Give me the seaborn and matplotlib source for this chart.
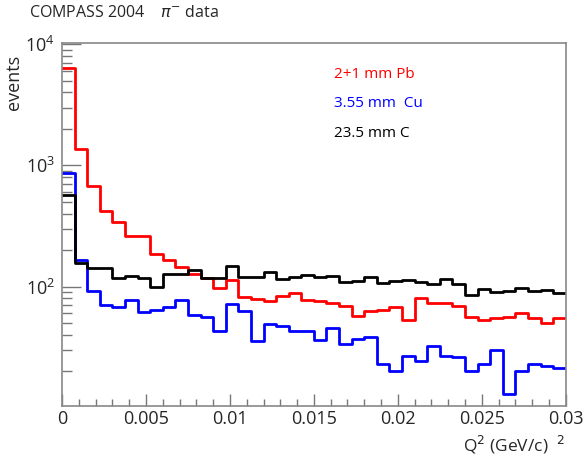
import numpy as np
import pandas as pd
import matplotlib
matplotlib.use("Agg")
import matplotlib.pyplot as plt
import seaborn as sns
from matplotlib.ticker import MultipleLocator, LogLocator

# Bins: 40 bins from 0 to 0.03 (GeV/c)^2
n_bins = 40
q2_min, q2_max = 0.0, 0.03
edges = np.linspace(q2_min, q2_max, n_bins + 1)
centers = 0.5 * (edges[:-1] + edges[1:])

# Contents
pb = [6370, 1355, 670, 419, 338, 259, 259, 184, 166, 144,
      127, 117, 97.5, 114, 82.6, 79, 76.6, 84.3, 89, 77.6,
      76.6, 72.8, 69.6, 57.5, 63.4, 63.8, 68.3, 53.4, 80.7, 72.8,
      72.8, 69.6, 55.7, 53.1, 55.1, 56.5, 60.7, 55.1, 50.1, 55.1]
cu = [871, 166, 92.7, 71, 68.3, 77.6, 61.4, 64.6, 67.4, 78.2,
      58.4, 55.7, 42.7, 71.9, 62.5, 35.3, 49.2, 47.6, 42.7, 42.7,
      36.5, 45.3, 33.6, 37, 38.1, 23, 20.2, 26.9, 24.2, 32.5,
      26.9, 26.1, 20.2, 23, 30.1, 13, 20, 23, 22.2, 21.1]
c = [573, 157, 142, 142, 117, 123, 117, 100, 127, 127,
     136, 117, 117, 149, 119, 119, 131, 116, 121, 125,
     119, 122, 108.6, 112, 119, 108, 110.6, 114, 110, 105,
     116, 105, 85.3, 95.7, 89.7, 92.7, 97.5, 92.7, 94, 88.7]

labels = ["2+1 mm Pb", "3.55 mm  Cu", "23.5 mm C"]
colors = ["#ff0000", "#0000ff", "#000000"]

sns.set_style("white")
plt.rcParams["font.family"] = ["Open Sans", "DejaVu Sans"]

fig = plt.figure(figsize=(5.84, 4.59), dpi=100)
ax = fig.add_axes([0.106, 0.115, 0.863, 0.791])

for vals, col in zip([pb, cu, c], colors):
    df = pd.DataFrame({"q2": centers, "events": vals})
    sns.histplot(data=df, x="q2", weights="events", bins=n_bins,
                 binrange=(q2_min, q2_max), element="step",
                 fill=False, color=col, linewidth=2, ax=ax)

ax.set_yscale("log")
ax.set_xlim(0, 0.03)
ax.set_ylim(10.3, 1.02e4)

# ejes tipo ROOT
for s in ax.spines.values():
    s.set_color("#888888")
    s.set_linewidth(1.2)
ax.xaxis.set_major_locator(MultipleLocator(0.005))
ax.xaxis.set_minor_locator(MultipleLocator(0.001))
ax.yaxis.set_minor_locator(LogLocator(base=10, subs=np.arange(2, 10)))
ax.tick_params(axis="both", which="both", direction="in", color="#777777",
               bottom=True, left=True, top=False, right=False, width=1)
ax.tick_params(axis="x", which="major", length=9)
ax.tick_params(axis="x", which="minor", length=5)
ax.tick_params(axis="y", which="major", length=14)
ax.tick_params(axis="y", which="minor", length=7)
ax.set_xticks(np.arange(0, 0.0301, 0.005))
ax.set_xticklabels(["0", "0.005", "0.01", "0.015", "0.02", "0.025", "0.03"])
ax.tick_params(axis="x", labelsize=13, pad=3)
ax.tick_params(axis="y", labelsize=13, pad=5)

ax.set_xlabel("")
ax.set_ylabel("")
fig.text(0.968, 0.016, r"Q$^2$ (GeV/c)  $^2$", ha="right", va="baseline", fontsize=12.5)
fig.text(0.008, 0.76, "events", rotation=90, ha="left", va="bottom", fontsize=13)
fig.text(0.05, 0.955, "COMPASS 2004    $\\pi^{-}$ data", ha="left", va="bottom", fontsize=11.5)

# etiquetas de los tres blancos
for i, (lab, col) in enumerate(zip(labels, colors)):
    ax.text(0.54, 0.915 - i * 0.082, lab, color=col, fontsize=11,
            transform=ax.transAxes, ha="left", va="center")

fig.savefig("out.png", dpi=100)
